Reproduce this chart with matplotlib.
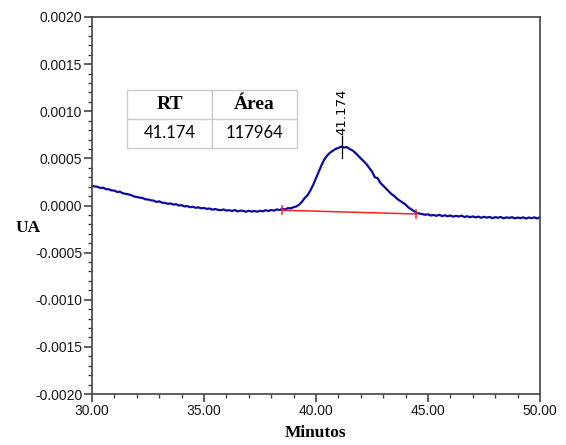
import numpy as np
import matplotlib
matplotlib.use("Agg")
import matplotlib.pyplot as plt
from matplotlib.ticker import MultipleLocator, FormatStrFormatter
from matplotlib.font_manager import FontProperties

# Chromatogram samples (minutes, UA x1e-4), 0.125 min step
time_min = np.arange(30.0, 50.0001, 0.125)
signal_e4 = [
    2.10, 2.02, 1.98, 1.86, 1.88, 1.74, 1.72, 1.60,
    1.58, 1.44, 1.46, 1.30, 1.24, 1.18, 1.10, 0.96,
    0.90, 0.84, 0.80, 0.66, 0.64, 0.56, 0.52, 0.38,
    0.44, 0.30, 0.28, 0.18, 0.22, 0.10, 0.14, 0.00,
    0.04, -0.10, -0.06, -0.18, -0.14, -0.24, -0.20, -0.30,
    -0.26, -0.36, -0.32, -0.44, -0.38, -0.46, -0.50, -0.42,
    -0.54, -0.50, -0.58, -0.48, -0.62, -0.54, -0.58, -0.66,
    -0.56, -0.64, -0.58, -0.66, -0.56, -0.62, -0.50, -0.58,
    -0.48, -0.54, -0.42, -0.48, -0.36, -0.42, -0.28, -0.30,
    -0.18, -0.10, 0.10, 0.40, 0.80, 1.10, 1.60, 2.20,
    2.90, 3.60, 4.30, 4.90, 5.30, 5.60, 5.80, 6.00,
    6.10, 6.25, 6.15, 6.20, 6.00, 5.85, 5.60, 5.30,
    5.00, 4.70, 4.40, 4.00, 3.60, 3.00, 2.90, 2.40,
    2.10, 1.80, 1.50, 1.20, 1.00, 0.70, 0.50, 0.30,
    0.10, -0.20, -0.40, -0.60, -0.80, -0.86, -0.92, -0.98,
    -0.94, -1.06, -1.00, -1.10, -0.98, -1.12, -1.04, -1.14,
    -1.06, -1.18, -1.10, -1.16, -1.08, -1.22, -1.14, -1.24,
    -1.16, -1.26, -1.18, -1.30, -1.20, -1.28, -1.22, -1.34,
    -1.24, -1.30, -1.22, -1.36, -1.26, -1.32, -1.24, -1.36,
    -1.28, -1.34, -1.26, -1.38, -1.28, -1.34, -1.26, -1.38,
    -1.24,
]
signal = np.array(signal_e4) * 1e-4

# Integration baseline (start / end)
base_t = [38.5, 44.46]
base_v = [-0.00005, -0.00009]

# Peak annotation
peak_rt = 41.174
peak_val = 0.00062
peak_label = "41.174"

# Table
table_cols = ["RT", "Área"]
table_vals = ["41.174", "117964"]

fig = plt.figure(figsize=(5.66, 4.45), dpi=100)
ax = fig.add_axes([92/566, 51/445, 448/566, 377/445])

ax.plot(time_min, signal, color="#0a0aa0", lw=1.6, solid_joinstyle="round")

# baseline
ax.plot(base_t, base_v, color="#ff2020", lw=1.1)
for t, v in zip(base_t, base_v):
    ax.plot([t, t], [v - 0.00004, v + 0.00004], color="#ff2020", lw=1.1)

# peak marker
ax.plot([peak_rt, peak_rt], [peak_val - 0.00012, peak_val + 0.00012],
        color="black", lw=0.9)
ax.text(peak_rt, peak_val + 0.00013, peak_label, rotation=90,
        ha="center", va="bottom", fontsize=9.5, family="DejaVu Sans")

ax.set_xlim(30, 50)
ax.set_ylim(-0.002, 0.002)
ax.xaxis.set_major_locator(MultipleLocator(5))
ax.xaxis.set_minor_locator(MultipleLocator(1))
ax.yaxis.set_major_locator(MultipleLocator(0.0005))
ax.yaxis.set_minor_locator(MultipleLocator(0.0001))
ax.xaxis.set_major_formatter(FormatStrFormatter("%.2f"))
ax.yaxis.set_major_formatter(FormatStrFormatter("%.4f"))
ax.tick_params(which="major", direction="out", length=6, width=1.2,
               color="#444444", labelsize=10, labelcolor="#1a1a1a")
ax.tick_params(which="minor", direction="out", length=3, width=1.0, color="#444444")
ax.tick_params(axis="x", pad=1)
ax.tick_params(axis="y", pad=1)
for lab in ax.get_xticklabels() + ax.get_yticklabels():
    lab.set_family("Liberation Sans")
for s in ax.spines.values():
    s.set_color("#444444")
    s.set_linewidth(1.2)

fig.text(316/566, 1 - 433/445, "Minutos", ha="center", va="center",
         fontsize=12.5, fontweight="bold", family="Liberation Serif")
fig.text(28/566, 1 - 228/445, "UA", ha="center", va="center",
         fontsize=12.5, fontweight="bold", family="Liberation Serif")

# table
tb = ax.table(cellText=[table_vals], colLabels=table_cols, cellLoc="center",
              bbox=[35/448, (394-148)/377, 170/448, 58/377])
tb.auto_set_font_size(False)
for (r, c), cell in tb.get_celld().items():
    cell.set_edgecolor("#cccccc")
    cell.set_linewidth(1.0)
    if r == 0:
        cell.get_text().set_fontproperties(
            FontProperties(family="Liberation Serif", weight="bold", size=14))
    else:
        cell.get_text().set_fontproperties(
            FontProperties(family="Lato", size=12))

fig.savefig("out.png", dpi=100)
